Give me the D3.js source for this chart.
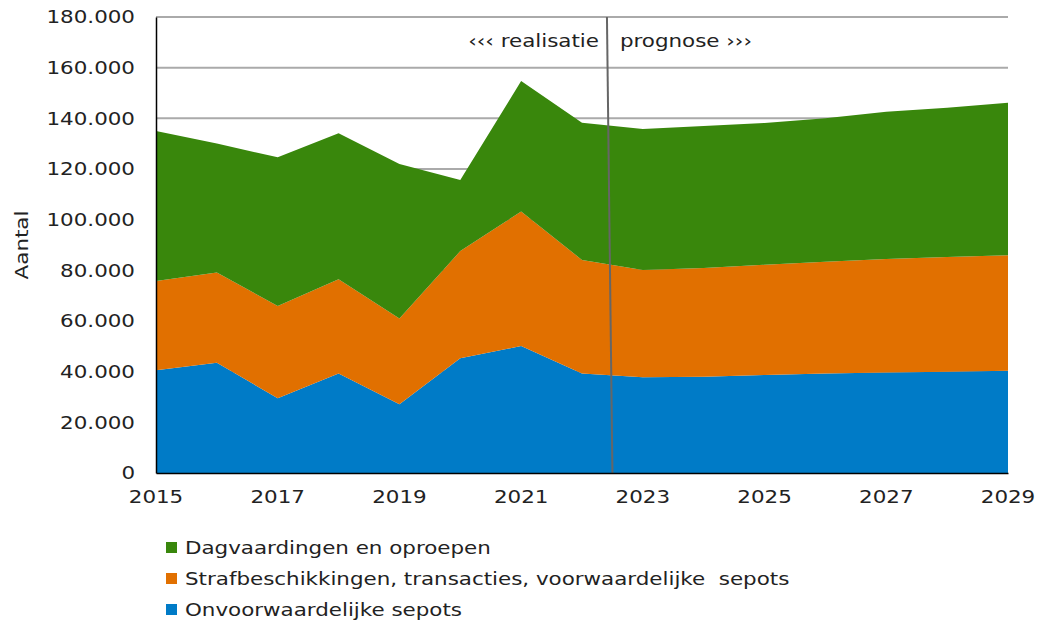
<!DOCTYPE html>
<html>
<head>
<meta charset="utf-8">
<script src="https://cdn.jsdelivr.net/npm/d3@7"></script>
<style>
  body { margin: 0; background: #fff; }
  text { font-family: Verdana, "DejaVu Sans", sans-serif; fill: #222; white-space: pre; }
</style>
</head>
<body>
<div class="graph"></div>
<script>
// data
var years = [2015, 2016, 2017, 2018, 2019, 2020, 2021, 2022, 2023, 2024, 2025, 2026, 2027, 2028, 2029];
var sepots = [40600, 43500, 29500, 39300, 27100, 45300, 50100, 39300, 37800, 38000, 38700, 39300, 39700, 40000, 40400];
var strafbeschikkingen = [35200, 35600, 36400, 37200, 33900, 42300, 53100, 44800, 42300, 42900, 43500, 44100, 44800, 45300, 45600];
var dagvaardingen = [59200, 51000, 58700, 57600, 61000, 28100, 51500, 54200, 55700, 56100, 56000, 56600, 58100, 58900, 60200];
var seriesNames = ['Onvoorwaardelijke sepots', 'Strafbeschikkingen, transacties, voorwaardelijke  sepots', 'Dagvaardingen en oproepen'];
var colors = ['#007BC7', '#E17000', '#39870C'];
var yTicks = [0, 20000, 40000, 60000, 80000, 100000, 120000, 140000, 160000, 180000];
var xTicks = [2015, 2017, 2019, 2021, 2023, 2025, 2027, 2029];
var splitTop = 2022.41, splitBottom = 2022.5;

// size and margin
var basewidth = 1045, baseheight = 627;
var margin = {top: 17, right: 37, bottom: 154, left: 156},
    width = basewidth - margin.left - margin.right,
    height = baseheight - margin.top - margin.bottom;
var stretch = 1.19; // text in the picture is wider than the font

var svg = d3.select('.graph')
    .append('svg')
    .attr('width', basewidth)
    .attr('height', baseheight);
var canvas = svg.append('g')
    .attr('transform', 'translate(' + margin.left + ',' + margin.top + ')');

var x = d3.scaleLinear().domain([2015, 2029]).range([0, width]);
var y = d3.scaleLinear().domain([0, 180000]).range([height, 0]);

function label(parent, tx, ty, str, anchor, rot) {
    return parent.append('text')
        .attr('transform', 'translate(' + tx + ',' + ty + ')' + (rot ? ' rotate(' + rot + ')' : '') + ' scale(' + stretch + ',1)')
        .attr('text-anchor', anchor || 'start')
        .attr('dy', '0.35em')
        .style('font-size', '18px')
        .text(str);
}

var table = years.map(function(yr, i) {
    return {year: yr, s0: sepots[i], s1: strafbeschikkingen[i], s2: dagvaardingen[i]};
});
var layers = d3.stack().keys(['s0', 's1', 's2'])(table);

// gridlines
canvas.selectAll('.grid')
    .data(yTicks.filter(function(d) { return d > 0; }))
    .enter().append('line')
    .attr('x1', 0).attr('x2', width)
    .attr('y1', function(d) { return y(d); })
    .attr('y2', function(d) { return y(d); })
    .style('stroke', '#aaaaaa')
    .style('stroke-width', 2);

// areas
var area = d3.area()
    .x(function(d) { return x(d.data.year); })
    .y0(function(d) { return y(d[0]); })
    .y1(function(d) { return y(d[1]); });

canvas.selectAll('.layer')
    .data(layers)
    .enter().append('path')
    .attr('d', area)
    .style('fill', function(d, i) { return colors[i]; });

// split line
canvas.append('line')
    .attr('x1', x(splitTop)).attr('y1', 0)
    .attr('x2', x(splitBottom)).attr('y2', height)
    .style('stroke', '#666')
    .style('stroke-width', 2);

label(canvas, x(splitTop) - 8, 24, '\u2039\u2039\u2039 realisatie', 'end');
label(canvas, x(splitTop) + 13, 24, 'prognose \u203A\u203A\u203A', 'start');

// axes
var yAxis = d3.axisLeft(y).tickValues(yTicks).tickSize(0).tickFormat('');
var gy = canvas.append('g').call(yAxis);
gy.select('.domain').style('stroke', '#000').style('stroke-width', 1.5);
yTicks.forEach(function(d) {
    label(canvas, -21, y(d), d === 0 ? '0' : d3.format(',')(d).replace(/,/g, '.'), 'end');
});

var xAxis = d3.axisBottom(x).tickValues(xTicks).tickSize(0).tickFormat('');
var gx = canvas.append('g').attr('transform', 'translate(0,' + height + ')').call(xAxis);
gx.select('.domain').style('stroke', '#000').style('stroke-width', 1.5);
xTicks.forEach(function(d) {
    label(canvas, x(d), height + 24, String(d), 'middle');
});

label(svg, 22, margin.top + y(90000), 'Aantal', 'middle', -90);

// legend
var legendOrder = [2, 1, 0];
var legend = svg.append('g').attr('transform', 'translate(166,542)');
legendOrder.forEach(function(k, i) {
    var row = legend.append('g').attr('transform', 'translate(0,' + (i * 31) + ')');
    row.append('rect')
        .attr('width', 11).attr('height', 11)
        .style('fill', colors[k]);
    label(row, 19, 6, seriesNames[k], 'start');
});
</script>
</body>
</html>
